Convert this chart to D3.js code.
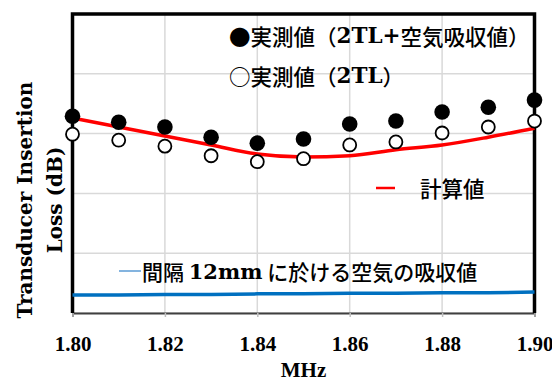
<!DOCTYPE html>
<html>
<head>
<meta charset="utf-8">
<script src="https://cdn.jsdelivr.net/npm/d3@7"></script>
<style>
  body { margin: 0; background: #fff; }
  svg { display: block; }
</style>
</head>
<body>
<div id="chart"></div>
<script>
"use strict";

var freqs = [1.80, 1.81, 1.82, 1.83, 1.84, 1.85, 1.86, 1.87, 1.88, 1.89, 1.90];
var measuredWithAir = [3.29, 3.19, 3.11, 2.94, 2.84, 2.91, 3.16, 3.21, 3.36, 3.44, 3.56];
var measured2TL = [2.99, 2.89, 2.79, 2.63, 2.53, 2.58, 2.81, 2.86, 3.01, 3.11, 3.21];
var calculated = [3.26, 3.11, 2.96, 2.81, 2.66, 2.61, 2.63, 2.73, 2.81, 2.94, 3.09];
var airAbsorption = [0.30, 0.30, 0.31, 0.31, 0.32, 0.32, 0.33, 0.33, 0.34, 0.34, 0.35];
var xTicks = [1.80, 1.82, 1.84, 1.86, 1.88, 1.90];
var yTicks = [0, 1, 2, 3, 4, 5];

var W = 552, H = 383;
var plot = {left: 72.5, right: 534.5, top: 14, bottom: 313};
var latin = "'DejaVu Serif', serif";
var tickFont = "'Liberation Serif', serif";
var jp = "'Noto Sans CJK JP', sans-serif";

var svg = d3.select('#chart').append('svg')
  .attr('width', W)
  .attr('height', H);

var x = d3.scaleLinear().domain([1.80, 1.90]).range([plot.left, plot.right]);
var y = d3.scaleLinear().domain([0, 5]).range([plot.bottom, plot.top]);

// grid
svg.append('g')
  .selectAll('line.h')
  .data(yTicks)
  .enter()
    .append('line')
      .attr('x1', plot.left).attr('x2', plot.right)
      .attr('y1', (d) => y(d)).attr('y2', (d) => y(d))
      .attr('stroke', '#d9d9d9').attr('stroke-width', 1.5);

svg.append('g')
  .selectAll('line.v')
  .data(xTicks)
  .enter()
    .append('line')
      .attr('x1', (d) => x(d)).attr('x2', (d) => x(d))
      .attr('y1', plot.top).attr('y2', plot.bottom)
      .attr('stroke', '#d9d9d9').attr('stroke-width', 1.5);

// x axis
var xAxis = d3.axisBottom(x)
  .tickValues(xTicks)
  .tickFormat(d3.format('.2f'))
  .tickSize(4)
  .tickPadding(19);

var gx = svg.append('g')
  .attr('transform', 'translate(0,' + plot.bottom + ')')
  .call(xAxis);
gx.select('.domain').attr('stroke', '#404040').attr('stroke-width', 2);
gx.selectAll('.tick line').attr('stroke', '#bfbfbf').attr('stroke-width', 1.5);
gx.selectAll('.tick text')
  .style('font-family', tickFont)
  .style('font-size', '21px')
  .style('font-weight', 'bold')
  .attr('fill', '#000');

// frame (left, top, right)
svg.append('path')
  .attr('d', 'M' + plot.left + ',' + plot.bottom + 'V' + plot.top + 'H' + plot.right + 'V' + plot.bottom)
  .attr('fill', 'none')
  .attr('stroke', '#000')
  .attr('stroke-width', 3.5);

// air absorption line
var line = d3.line()
  .x((d, i) => x(freqs[i]))
  .y((d) => y(d));

svg.append('path')
  .datum(airAbsorption)
  .attr('d', line)
  .attr('fill', 'none')
  .attr('stroke', '#0070c0')
  .attr('stroke-width', 3.5);

// calculated curve
svg.append('path')
  .datum(calculated)
  .attr('d', line.curve(d3.curveMonotoneX))
  .attr('fill', 'none')
  .attr('stroke', '#ff0000')
  .attr('stroke-width', 3.5);

// measured points
svg.append('g')
  .selectAll('circle')
  .data(measured2TL)
  .enter()
    .append('circle')
      .attr('cx', (d, i) => x(freqs[i]))
      .attr('cy', (d) => y(d))
      .attr('r', 6.5)
      .attr('fill', '#fff')
      .attr('stroke', '#000')
      .attr('stroke-width', 1.8);

svg.append('g')
  .selectAll('circle')
  .data(measuredWithAir)
  .enter()
    .append('circle')
      .attr('cx', (d, i) => x(freqs[i]))
      .attr('cy', (d) => y(d))
      .attr('r', 7.8)
      .attr('fill', '#000');

// mixed text: latin pieces in serif bold, japanese in gothic
function mixedText(tx, ty, parts, size) {
  var t = svg.append('text')
    .attr('x', tx)
    .attr('y', ty)
    .attr('font-size', size)
    .attr('dominant-baseline', 'central')
    .attr('fill', '#000');
  parts.forEach((p) => {
    t.append('tspan')
      .attr('font-family', p[1] ? latin : jp)
      .attr('font-weight', p[1] ? 'bold' : 500)
      .text(p[0]);
  });
  return t;
}

mixedText(229, 35, [['●実測値（', 0], ['2TL+', 1], ['空気吸収値）', 0]], 21.5);
mixedText(229, 75, [['○実測値（', 0], ['2TL', 1], ['）', 0]], 21.5);

svg.append('line')
  .attr('x1', 376).attr('x2', 395)
  .attr('y1', 188).attr('y2', 188)
  .attr('stroke', '#ff0000').attr('stroke-width', 2.5);
mixedText(420, 187, [['計算値', 0]], 21.5);

svg.append('line')
  .attr('x1', 119).attr('x2', 141)
  .attr('y1', 271).attr('y2', 271)
  .attr('stroke', '#5b9bd5').attr('stroke-width', 1.5);
mixedText(142, 271, [['間隔 ', 0], ['12mm', 1], [' に於ける空気の吸収値', 0]], 21);

// axis titles
var title = svg.append('g')
  .attr('transform', 'translate(0,200) rotate(-90)')
  .attr('font-family', latin)
  .attr('font-weight', 'bold')
  .attr('font-size', 20)
  .attr('text-anchor', 'middle')
  .attr('dominant-baseline', 'central');
title.append('text').attr('x', 0).attr('y', 25).text('Transducer Insertion');
title.append('text').attr('x', 0).attr('y', 55).text('Loss (dB)');

svg.append('text')
  .attr('x', (plot.left + plot.right) / 2)
  .attr('y', 377)
  .attr('text-anchor', 'middle')
  .attr('font-family', tickFont)
  .attr('font-weight', 'bold')
  .attr('font-size', 21)
  .text('MHz');
</script>
</body>
</html>
